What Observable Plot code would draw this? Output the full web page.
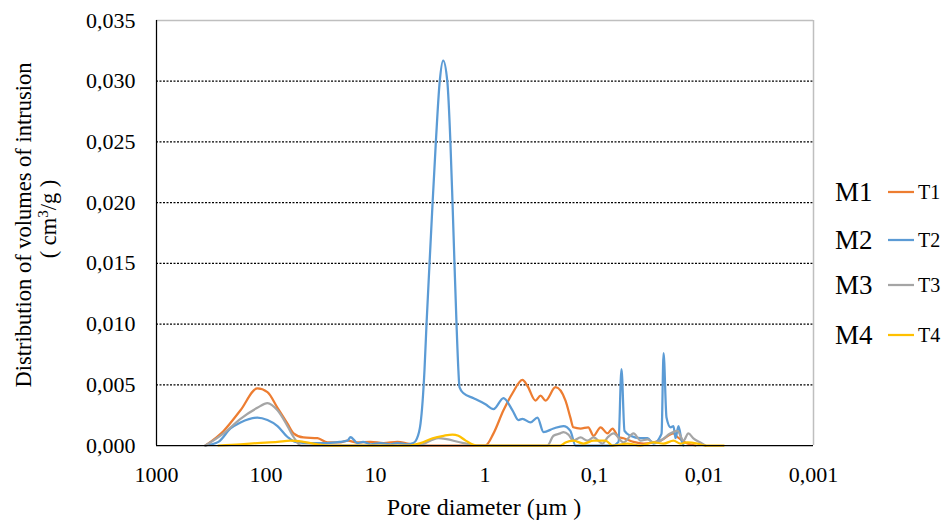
<!DOCTYPE html>
<html><head><meta charset="utf-8">
<script src="https://cdn.jsdelivr.net/npm/d3@7"></script>
<script src="https://cdn.jsdelivr.net/npm/@observablehq/plot@0.6"></script>
<style>body{margin:0;background:#fff}</style>
</head><body><div id="chart"></div>
<script>
const seriesNames = ["T1", "T2", "T3", "T4"];
const mixNames = ["M1", "M2", "M3", "M4"];
const colors = ["#ED7D31", "#5B9BD5", "#A5A5A5", "#FFC000"];
const xTicks = [1000, 100, 10, 1, 0.1, 0.01, 0.001];
const xTickLabels = ["1000", "100", "10", "1", "0,1", "0,01", "0,001"];
const yTicks = [0, 0.005, 0.010, 0.015, 0.020, 0.025, 0.030, 0.035];
const xTitle = "Pore diameter (µm )";
const yTitle = "Distribution of volumes of intrusion";

// [pore diameter (µm), volume (cm3/g)]
const T1 = [[357,0],[244,0.0012],[171,0.0029],[120,0.0047],[97,0.0044],[78.5,0.0031],[63.6,0.0018],[56,0.0010],[45.5,0.00066],[33.9,0.0006],[27.4,0.00025],[21,0.00025],[18,0.0004],[14.6,0.00025],[11.1,0.0003],[8.45,0.0002],[6.3,0.0003],[5.1,0.00016],[4.13,0],[1.36,0],[0.99,0],[0.836,0.0010],[0.678,0.0029],[0.561,0.0043],[0.455,0.0054],[0.409,0.0049],[0.346,0.0037],[0.311,0.0041],[0.280,0.0037],[0.227,0.0048],[0.184,0.0037],[0.166,0.0023],[0.156,0.0015],[0.134,0.0014],[0.114,0.0015],[0.102,0.0008],[0.088,0.0015],[0.076,0.0010],[0.0685,0.0014],[0.0604,0.0007],[0.0543,0.0006],[0.044,0.0003],[0.0357,0.00016],[0.0249,0.0004],[0.019,0.0010],[0.0175,0.0007],[0.0142,0.00016],[0.012,0]];
const T2 = [[357,0],[272,0.0003],[211,0.0014],[171,0.0019],[120,0.0023],[97,0.0021],[78.5,0.0016],[63.6,0.0007],[54,0.0003],[39,0.0002],[27.4,0.0002],[21,0.0003],[18,0.0004],[16.9,0.0007],[14.6,0.0002],[13,0.0003],[11.1,0.0001],[9,0.0002],[7.3,0.0001],[6.3,0.0002],[5.1,0.0001],[4.5,0.0002],[4.22,0.0005],[3.88,0.0018],[3.57,0.0062],[3.42,0.010],[3.21,0.015],[3.01,0.020],[2.81,0.025],[2.59,0.030],[2.41,0.0317],[2.21,0.030],[2.07,0.025],[1.98,0.020],[1.90,0.015],[1.82,0.010],[1.75,0.0062],[1.71,0.0048],[1.57,0.0043],[1.27,0.0039],[0.99,0.0034],[0.836,0.0030],[0.678,0.0039],[0.561,0.0029],[0.494,0.0021],[0.455,0.0022],[0.384,0.0019],[0.332,0.0023],[0.292,0.0011],[0.237,0.0014],[0.192,0.0016],[0.166,0.0012],[0.149,0],[0.0685,0],[0.0604,0.0003],[0.0567,0.0063],[0.0532,0.0012],[0.0469,0.0008],[0.038,0.0006],[0.0328,0.0006],[0.0289,0.00016],[0.0249,0.0008],[0.0244,0.0010],[0.0234,0.0076],[0.022,0.0023],[0.0202,0.0015],[0.019,0.0016],[0.0182,0.0006],[0.0171,0.0016],[0.016,0.0004],[0.0154,0]];
const T3 = [[357,0],[244,0.0010],[171,0.0022],[120,0.0031],[97,0.0035],[78.5,0.0029],[63.6,0.0016],[56,0.0007],[48,0],[4.13,0],[2.66,0.0006],[1.57,0.0002],[1.15,0],[0.269,0],[0.237,0.0008],[0.205,0.0010],[0.192,0.0011],[0.173,0.0009],[0.156,0.0004],[0.134,0.00066],[0.116,0.0004],[0.102,0.00066],[0.0845,0.00016],[0.076,0.00066],[0.067,0.0010],[0.0543,0.00025],[0.044,0.0010],[0.038,0.0004],[0.0328,0.0005],[0.0289,0.00025],[0.0249,0.0004],[0.0202,0.0010],[0.0175,0.0012],[0.0154,0.0004],[0.0139,0.0010],[0.0125,0.00058],[0.0108,0.00025],[0.0097,0]];
const T4 = [[272,0],[171,0.0001],[120,0.0002],[78.5,0.0003],[60,0.0004],[45.5,0.0003],[33.9,0.0001],[27,0],[4.8,0],[3.88,0.0002],[3.01,0.0006],[2.39,0.0008],[1.98,0.0009],[1.75,0.0008],[1.5,0.0004],[1.2,0],[0.205,0],[0.184,0.00025],[0.156,0.0004],[0.126,0.00016],[0.102,0.0004],[0.0794,0.0004],[0.0685,0],[0.05,0.00016],[0.038,0],[0.0289,0.00025],[0.0234,0.00016],[0.019,0.0004],[0.0164,0.00016],[0.0142,0.00025],[0.0115,0.00016],[0.0097,0],[0.0066,0]];

const data = [T1, T2, T3, T4].flatMap((s, i) => s.map(([d, v]) => ({d, v, s: seriesNames[i]})));
const font = "'Liberation Serif', 'Times New Roman', serif";

const plot = Plot.plot({
  width: 952, height: 523,
  marginLeft: 156, marginRight: 139, marginTop: 20, marginBottom: 78,
  style: {fontFamily: font, fontSize: "22px", color: "#000", background: "#fff"},
  x: {type: "log", domain: [1000, 0.001], label: null},
  y: {domain: [0, 0.035], label: null},
  color: {domain: seriesNames, range: colors},
  marks: [
    Plot.ruleY(yTicks.filter(t => t > 0 && t < 0.035), {stroke: "#000", strokeDasharray: "2,1.5", strokeWidth: 1.2}),
    Plot.ruleY([0.035], {stroke: "#bfbfbf", strokeWidth: 1.5}),
    Plot.ruleX([0.001], {stroke: "#bfbfbf", strokeWidth: 1.5}),
    Plot.line(data, {x: "d", y: "v", z: "s", stroke: "s", strokeWidth: 2.25, curve: "monotone-x"}),
    Plot.ruleX([1000], {stroke: "#000", strokeWidth: 1.25}),
    Plot.ruleY([0], {stroke: "#000", strokeWidth: 1.25}),
    Plot.axisX(xTicks, {tickSize: 0, tickPadding: 21, fontSize: 22,
      tickFormat: d => xTickLabels[xTicks.findIndex(t => Math.abs(Math.log10(t) - Math.log10(d)) < 1e-6)]}),
    Plot.axisY(yTicks, {tickSize: 0, tickPadding: 21, fontSize: 22,
      tickFormat: d => d.toFixed(3).replace(".", ",")})
  ]
});

const svg = d3.select(plot);
svg.append("text").attr("x", 484).attr("y", 515).attr("text-anchor", "middle")
  .attr("font-family", font).attr("font-size", 24).attr("fill", "#000").text(xTitle);
svg.append("text").attr("transform", "translate(31,225) rotate(-90)").attr("text-anchor", "middle")
  .attr("font-family", font).attr("font-size", 22.5).attr("fill", "#000").text(yTitle);
const t2 = svg.append("text").attr("transform", "translate(56,219) rotate(-90)").attr("text-anchor", "middle")
  .attr("font-family", font).attr("font-size", 22.5).attr("fill", "#000");
t2.append("tspan").text("( cm");
t2.append("tspan").attr("font-size", 15).attr("dy", -8).text("3");
t2.append("tspan").attr("dy", 8).text("/g )");

const legY = [192, 240, 285, 335];
const lg = svg.append("g").attr("font-family", font).attr("fill", "#000").attr("text-anchor", "start");
mixNames.forEach((m, i) => {
  lg.append("text").attr("x", 835).attr("y", legY[i]).attr("dy", "0.35em").attr("font-size", 27).text(m);
  lg.append("line").attr("x1", 888).attr("x2", 914).attr("y1", legY[i]).attr("y2", legY[i])
    .attr("stroke", colors[i]).attr("stroke-width", 2.25);
  lg.append("text").attr("x", 918).attr("y", legY[i]).attr("dy", "0.35em").attr("font-size", 20).text(seriesNames[i]);
});

document.getElementById("chart").appendChild(plot);
</script>
</body></html>
